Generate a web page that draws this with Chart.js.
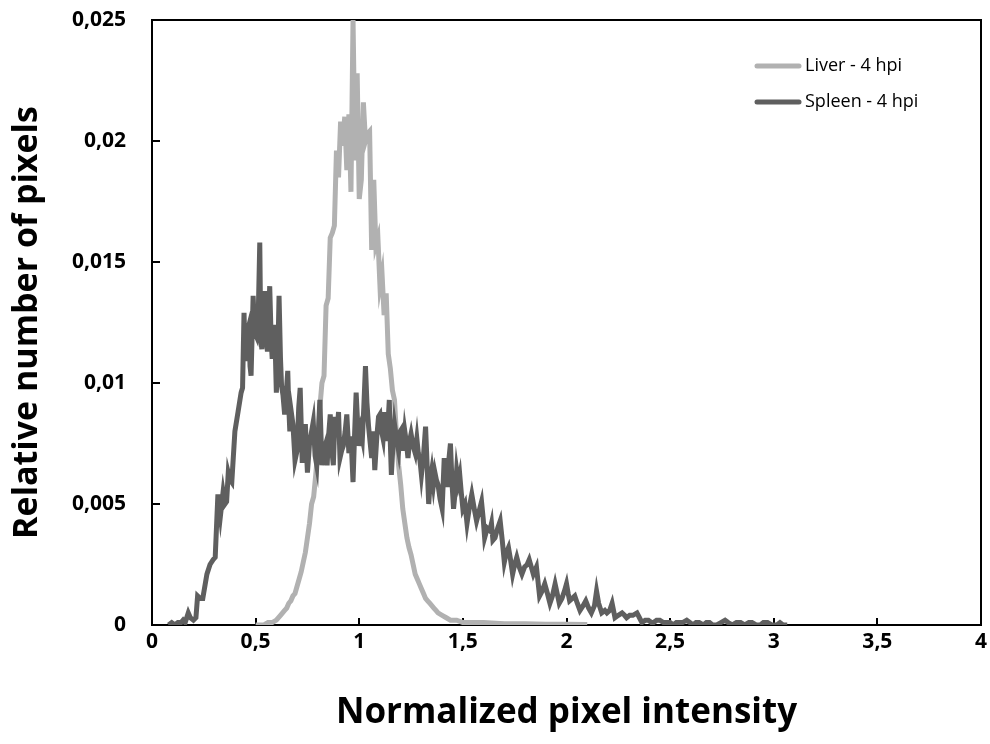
<!DOCTYPE html>
<html>
<head>
<meta charset="utf-8">
<script src="https://cdn.jsdelivr.net/npm/chart.js@4.4.0/dist/chart.umd.min.js"></script>
<style>
html,body{margin:0;padding:0;background:#fff;}
canvas{display:block;}
</style>
</head>
<body>
<canvas id="c" width="990" height="744"></canvas>
<script>
const seriesNames = ['Liver - 4 hpi', 'Spleen - 4 hpi'];
const xTickLabels = ['0','0,5','1','1,5','2','2,5','3','3,5','4'];
const yTickLabels = ['0','0,005','0,01','0,015','0,02','0,025'];

const liverX = [0.50,0.52,0.54,0.56,0.58,0.60,0.62,0.63,0.64,0.65,0.66,0.67,0.68,0.69,0.70,0.71,0.72,0.73,0.74,0.75,0.76,0.77,0.78,0.79,0.80,0.81,0.82,0.83,0.84,0.85,0.86,0.87,0.88,0.89,0.90,0.91,0.92,0.93,0.94,0.95,0.96,0.97,0.98,0.99,1.00,1.01,1.02,1.03,1.04,1.05,1.06,1.07,1.08,1.09,1.10,1.11,1.12,1.13,1.14,1.15,1.16,1.17,1.18,1.19,1.20,1.21,1.22,1.23,1.24,1.25,1.26,1.27,1.28,1.29,1.30,1.31,1.32,1.33,1.34,1.35,1.36,1.37,1.38,1.40,1.42,1.44,1.47,1.50,1.55,1.60,1.70,1.80,1.90,2.00,2.10];
const liverY = [0,0,0,0.0001,0.0001,0.0002,0.0004,0.0005,0.0006,0.0007,0.0009,0.0010,0.0012,0.0013,0.0016,0.0019,0.0022,0.0026,0.0030,0.0036,0.0042,0.0050,0.0053,0.0062,0.0072,0.0090,0.0100,0.0103,0.0132,0.0135,0.0160,0.0162,0.0165,0.0196,0.0185,0.0208,0.0198,0.0210,0.0188,0.0211,0.0179,0.0250,0.0192,0.0228,0.0176,0.0184,0.0216,0.0200,0.0203,0.0204,0.0155,0.0184,0.0157,0.0160,0.0140,0.0145,0.0128,0.0137,0.0112,0.0106,0.0097,0.0093,0.0078,0.0066,0.0058,0.0048,0.0042,0.0036,0.0032,0.0029,0.0025,0.0021,0.0019,0.0017,0.0015,0.0013,0.0011,0.0010,0.0009,0.0008,0.0007,0.0006,0.0005,0.0004,0.0003,0.0002,0.0002,0.0001,0.0001,0.0001,0.00005,0.00005,0.00003,0.00003,0.00002];

const spleenX = [0.080,0.095,0.110,0.125,0.140,0.150,0.160,0.175,0.185,0.200,0.212,0.220,0.232,0.245,0.265,0.280,0.295,0.305,0.318,0.330,0.343,0.352,0.360,0.368,0.377,0.385,0.400,0.415,0.430,0.437,0.444,0.450,0.457,0.462,0.468,0.473,0.478,0.488,0.495,0.505,0.512,0.520,0.525,0.530,0.538,0.545,0.551,0.557,0.568,0.575,0.580,0.587,0.593,0.600,0.607,0.613,0.620,0.625,0.632,0.640,0.648,0.655,0.660,0.665,0.672,0.680,0.690,0.700,0.708,0.715,0.725,0.733,0.740,0.750,0.760,0.768,0.778,0.787,0.795,0.803,0.810,0.820,0.828,0.835,0.845,0.852,0.860,0.868,0.875,0.883,0.892,0.900,0.907,0.915,0.923,0.932,0.940,0.950,0.960,0.970,0.978,0.985,0.993,1.000,1.008,1.015,1.022,1.030,1.037,1.045,1.053,1.060,1.068,1.075,1.085,1.093,1.100,1.108,1.115,1.123,1.130,1.138,1.145,1.150,1.155,1.163,1.170,1.180,1.190,1.198,1.205,1.213,1.220,1.228,1.235,1.243,1.250,1.260,1.270,1.278,1.285,1.293,1.300,1.310,1.320,1.328,1.335,1.343,1.350,1.358,1.365,1.372,1.380,1.390,1.400,1.410,1.418,1.425,1.432,1.440,1.448,1.455,1.463,1.470,1.478,1.485,1.492,1.500,1.510,1.520,1.532,1.543,1.555,1.566,1.578,1.590,1.598,1.605,1.618,1.630,1.638,1.645,1.655,1.668,1.680,1.690,1.700,1.710,1.720,1.730,1.740,1.750,1.760,1.772,1.785,1.798,1.810,1.820,1.830,1.840,1.855,1.870,1.882,1.895,1.908,1.920,1.932,1.945,1.955,1.965,1.978,1.990,2.000,2.008,2.015,2.028,2.040,2.052,2.065,2.080,2.093,2.107,2.120,2.135,2.145,2.155,2.170,2.185,2.195,2.208,2.220,2.234,2.250,2.268,2.280,2.290,2.305,2.320,2.340,2.352,2.364,2.380,2.395,2.410,2.420,2.435,2.450,2.468,2.485,2.500,2.515,2.530,2.545,2.560,2.580,2.595,2.610,2.625,2.640,2.660,2.675,2.690,2.705,2.725,2.745,2.765,2.780,2.800,2.820,2.840,2.860,2.880,2.895,2.915,2.935,2.950,2.970,2.990,3.015,3.030,3.045,3.065];
const spleenY = [0.0000,0.0001,0.0000,0.0001,0.0001,0.0002,0.0001,0.0005,0.0003,0.0002,0.0003,0.0012,0.0011,0.0011,0.0021,0.0025,0.0027,0.0028,0.0054,0.0045,0.0055,0.0050,0.0051,0.0063,0.0060,0.0059,0.0080,0.0088,0.0096,0.0098,0.0129,0.0110,0.0110,0.0122,0.0124,0.0107,0.0103,0.0136,0.0121,0.0119,0.0125,0.0158,0.0118,0.0114,0.0126,0.0138,0.0118,0.0113,0.0140,0.0118,0.0110,0.0124,0.0120,0.0096,0.0110,0.0136,0.0110,0.0099,0.0095,0.0087,0.0096,0.0105,0.0090,0.0080,0.0088,0.0083,0.0068,0.0072,0.0090,0.0098,0.0067,0.0078,0.0083,0.0063,0.0075,0.0079,0.0084,0.0070,0.0066,0.0080,0.0093,0.0066,0.0072,0.0074,0.0066,0.0078,0.0087,0.0072,0.0066,0.0086,0.0078,0.0088,0.0069,0.0072,0.0074,0.0080,0.0087,0.0071,0.0078,0.0059,0.0080,0.0096,0.0082,0.0074,0.0080,0.0077,0.0090,0.0107,0.0092,0.0082,0.0075,0.0069,0.0080,0.0064,0.0078,0.0086,0.0087,0.0080,0.0077,0.0088,0.0076,0.0082,0.0093,0.0075,0.0062,0.0075,0.0083,0.0077,0.0072,0.0080,0.0081,0.0072,0.0080,0.0075,0.0069,0.0076,0.0079,0.0074,0.0071,0.0077,0.0071,0.0068,0.0062,0.0070,0.0082,0.0065,0.0050,0.0060,0.0064,0.0058,0.0063,0.0060,0.0058,0.0052,0.0048,0.0069,0.0062,0.0057,0.0068,0.0075,0.0058,0.0048,0.0055,0.0064,0.0059,0.0062,0.0055,0.0048,0.0050,0.0042,0.0049,0.0054,0.0048,0.0043,0.0047,0.0051,0.0044,0.0036,0.0040,0.0039,0.0042,0.0035,0.0036,0.0040,0.0043,0.0035,0.0026,0.0030,0.0032,0.0027,0.0021,0.0025,0.0028,0.0024,0.0021,0.0024,0.0025,0.0027,0.0024,0.0021,0.0024,0.0012,0.0014,0.0017,0.0013,0.0009,0.0012,0.0017,0.0013,0.0009,0.0011,0.0014,0.0017,0.0013,0.0010,0.0011,0.0012,0.0009,0.0006,0.0008,0.0010,0.0007,0.0005,0.0008,0.0014,0.0009,0.0005,0.0006,0.0005,0.0006,0.0009,0.0003,0.0004,0.0005,0.0004,0.0003,0.0004,0.0004,0.0005,0.0003,0.0001,0.0002,0.0002,0.0001,0.0001,0.0002,0.0002,0.0001,0.0001,0.0001,0.0000,0.0001,0.0001,0.0001,0.0002,0.0001,0.0000,0.0001,0.0001,0.0000,0.0001,0.0001,0.0000,0.0000,0.0001,0.0002,0.0001,0.0000,0.0001,0.0001,0.0000,0.0001,0.0001,0.0000,0.0000,0.0001,0.0001,0.0000,0.0000,0.0001,0.0000,0.0000];

const liverColor = '#b1b1b1';
const spleenColor = '#5f5f5f';
const FONT = "'Open Sans', Lato, sans-serif";

const toPoints = (xs, ys) => xs.map((x, i) => ({x: x, y: ys[i]}));

const frameTicks = {
  id: 'frameTicks',
  beforeDatasetsDraw(chart) {
    const {ctx, chartArea: a, scales: {x, y}} = chart;
    ctx.save();
    ctx.strokeStyle = '#000';
    ctx.lineWidth = 2;
    ctx.strokeRect(a.left, a.top, a.right - a.left, a.bottom - a.top);
    ctx.beginPath();
    x.ticks.forEach(t => {
      const px = Math.round(x.getPixelForValue(t.value));
      ctx.moveTo(px, a.bottom); ctx.lineTo(px, a.bottom - 7);
    });
    y.ticks.forEach(t => {
      const py = Math.round(y.getPixelForValue(t.value));
      ctx.moveTo(a.left, py); ctx.lineTo(a.left + 8, py);
    });
    ctx.stroke();
    ctx.restore();
  }
};

const legendBox = {
  id: 'legendBox',
  afterDraw(chart) {
    const ctx = chart.ctx;
    const items = [[seriesNames[0], liverColor, 66], [seriesNames[1], spleenColor, 102]];
    ctx.save();
    ctx.font = "18px " + FONT;
    ctx.textBaseline = 'middle';
    ctx.fillStyle = '#000';
    items.forEach(([label, color, yy]) => {
      ctx.strokeStyle = color;
      ctx.lineWidth = 5;
      ctx.lineCap = 'round';
      ctx.beginPath();
      ctx.moveTo(757, yy); ctx.lineTo(799, yy);
      ctx.stroke();
      ctx.fillText(label, 805, yy);
    });
    ctx.restore();
  }
};

const zeroPad = s => { s.paddingTop = 0; s.paddingBottom = 0; s.paddingLeft = 0; s.paddingRight = 0; };

new Chart(document.getElementById('c'), {
  type: 'line',
  data: {
    datasets: [
      {label: seriesNames[0], data: toPoints(liverX, liverY), borderColor: liverColor, borderWidth: 5, pointRadius: 0, tension: 0, fill: false, order: 1},
      {label: seriesNames[1], data: toPoints(spleenX, spleenY), borderColor: spleenColor, borderWidth: 5, pointRadius: 0, tension: 0, fill: false, order: 0}
    ]
  },
  options: {
    responsive: false,
    animation: false,
    devicePixelRatio: 1,
    layout: {padding: {top: 20, right: 9, left: 0, bottom: 0}},
    plugins: {legend: {display: false}, tooltip: {enabled: false}},
    scales: {
      x: {
        type: 'linear', min: 0, max: 4,
        grid: {display: false, drawTicks: false},
        border: {display: false},
        ticks: {stepSize: 0.5, autoSkip: false, maxRotation: 0, padding: 4, color: '#000',
          font: {family: FONT, size: 21, weight: 'bold'},
          callback: (v, i) => xTickLabels[i]},
        title: {display: true, text: 'Normalized pixel intensity', color: '#000',
          font: {family: FONT, size: 35, weight: 'bold'}, padding: {top: 0, bottom: 10}},
        afterFit: s => { s.height = 119; zeroPad(s); }
      },
      y: {
        type: 'linear', min: 0, max: 0.025,
        grid: {display: false, drawTicks: false},
        border: {display: false},
        ticks: {stepSize: 0.005, autoSkip: false, padding: 26, color: '#000',
          font: {family: FONT, size: 21, weight: 'bold'},
          callback: (v, i) => yTickLabels[i]},
        title: {display: true, text: 'Relative number of pixels', color: '#000',
          font: {family: FONT, size: 34, weight: 'bold'}, padding: {top: 7, bottom: 0}},
        afterFit: s => { s.width = 152; zeroPad(s); }
      }
    }
  },
  plugins: [frameTicks, legendBox]
});
</script>
</body>
</html>
